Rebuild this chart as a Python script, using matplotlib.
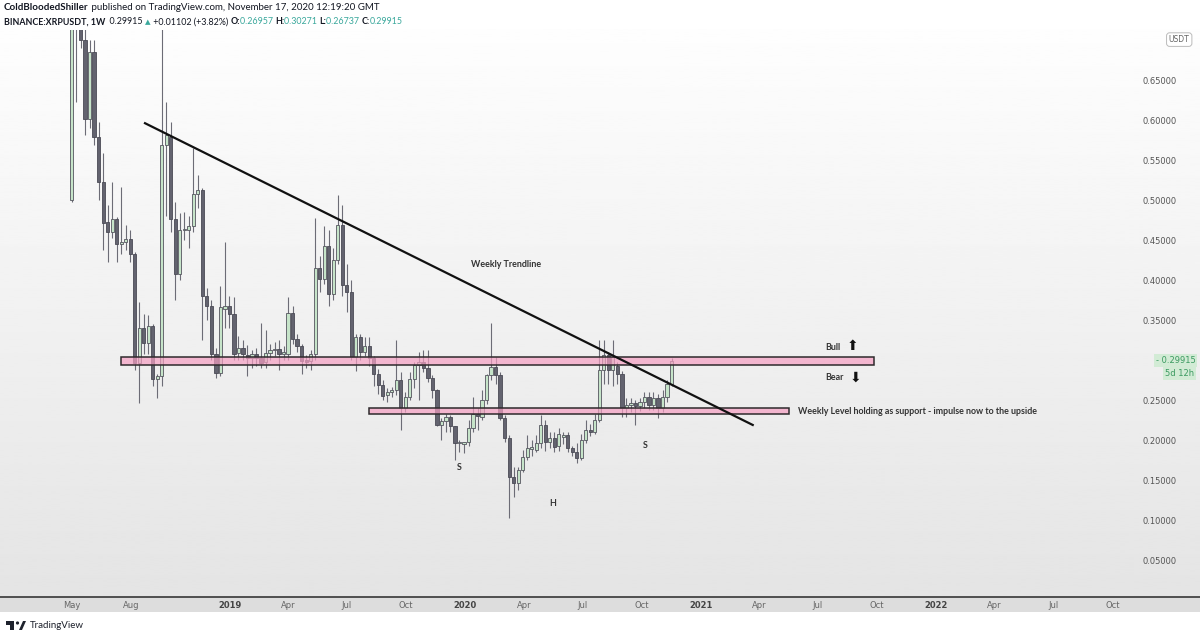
import numpy as np
import pandas as pd
import matplotlib
matplotlib.use("Agg")
import matplotlib.pyplot as plt
import matplotlib.dates as mdates
from matplotlib.transforms import blended_transform_factory
from matplotlib.patches import Rectangle

# weekly OHLC, BINANCE:XRPUSDT, first candle = week of 2018-04-30
opens = [0.50, 0.87, 0.78, 0.70, 0.601, 0.685, 0.579, 0.523, 0.472, 0.460,
         0.476, 0.445, 0.447, 0.451, 0.432, 0.296, 0.340, 0.321, 0.342, 0.276,
         0.280, 0.569, 0.579, 0.476, 0.408, 0.4625, 0.462, 0.467, 0.508, 0.512,
         0.380, 0.368, 0.308, 0.284, 0.364, 0.367, 0.358, 0.309, 0.315, 0.306,
         0.302, 0.308, 0.302, 0.297, 0.309, 0.312, 0.314, 0.308, 0.308, 0.359,
         0.326, 0.317, 0.300, 0.299, 0.308, 0.415, 0.401, 0.442, 0.383, 0.425,
         0.469, 0.394, 0.385, 0.304, 0.329, 0.310, 0.317, 0.302, 0.283, 0.269,
         0.256, 0.260, 0.262, 0.275, 0.240, 0.254, 0.276, 0.294, 0.298, 0.290,
         0.278, 0.2625, 0.219, 0.224, 0.229, 0.217, 0.196, 0.195, 0.197, 0.2146,
         0.233, 0.229, 0.250, 0.281, 0.2917, 0.281, 0.227, 0.202, 0.154, 0.146,
         0.1625, 0.179, 0.189, 0.188, 0.196, 0.219, 0.198, 0.202, 0.192, 0.204,
         0.206, 0.190, 0.185, 0.177, 0.200, 0.2125, 0.210, 0.225, 0.2875, 0.306,
         0.2875, 0.292, 0.283, 0.2396, 0.2438, 0.2458, 0.2425, 0.2479, 0.2542, 0.2438,
         0.2520, 0.2396, 0.2542, 0.26957]
highs = [0.95, 0.93, 0.80, 0.72, 0.70, 0.70, 0.598, 0.559, 0.494, 0.523,
         0.479, 0.516, 0.469, 0.463, 0.435, 0.373, 0.358, 0.356, 0.345, 0.283,
         0.78, 0.623, 0.598, 0.498, 0.484, 0.485, 0.48, 0.565, 0.531, 0.515,
         0.39, 0.375, 0.315, 0.392, 0.448, 0.38, 0.379, 0.33, 0.325, 0.319,
         0.312, 0.315, 0.346, 0.338, 0.32, 0.323, 0.325, 0.318, 0.379, 0.367,
         0.333, 0.32, 0.306, 0.312, 0.477, 0.43, 0.467, 0.4625, 0.44, 0.506,
         0.494, 0.42, 0.40, 0.333, 0.333, 0.329, 0.329, 0.305, 0.289, 0.275,
         0.265, 0.266, 0.325, 0.285, 0.26, 0.285, 0.298, 0.31, 0.312, 0.313,
         0.281, 0.264, 0.228, 0.233, 0.231, 0.218, 0.20, 0.198, 0.225, 0.254,
         0.24, 0.2625, 0.283, 0.346, 0.304, 0.285, 0.231, 0.206, 0.1667, 0.1667,
         0.1875, 0.206, 0.20, 0.206, 0.231, 0.225, 0.21, 0.21, 0.215, 0.21,
         0.21, 0.193, 0.196, 0.208, 0.225, 0.22, 0.233, 0.325, 0.325, 0.31,
         0.325, 0.298, 0.286, 0.252, 0.252, 0.25, 0.252, 0.26, 0.26, 0.26,
         0.258, 0.262, 0.275, 0.30271]
lows = [0.497, 0.623, 0.69, 0.581, 0.59, 0.569, 0.50, 0.437, 0.423, 0.452,
        0.422, 0.433, 0.437, 0.423, 0.288, 0.246, 0.308, 0.308, 0.267, 0.252,
        0.267, 0.48, 0.46, 0.375, 0.40, 0.45, 0.44, 0.46, 0.49, 0.325,
        0.35, 0.30, 0.278, 0.28, 0.34, 0.34, 0.30, 0.30, 0.30, 0.28,
        0.29, 0.292, 0.29, 0.29, 0.30, 0.305, 0.288, 0.30, 0.30, 0.32,
        0.31, 0.283, 0.29, 0.288, 0.30, 0.385, 0.395, 0.367, 0.375, 0.42,
        0.38, 0.36, 0.30, 0.286, 0.30, 0.305, 0.292, 0.2675, 0.258, 0.25,
        0.248, 0.254, 0.256, 0.2125, 0.235, 0.25, 0.265, 0.25, 0.285, 0.272,
        0.2525, 0.2175, 0.20, 0.21, 0.21, 0.175, 0.185, 0.184, 0.192, 0.21,
        0.2125, 0.225, 0.245, 0.275, 0.27, 0.225, 0.198, 0.102, 0.129, 0.1375,
        0.16, 0.175, 0.18, 0.185, 0.19, 0.186, 0.19, 0.185, 0.186, 0.195,
        0.185, 0.18, 0.171, 0.175, 0.196, 0.205, 0.208, 0.222, 0.27, 0.27,
        0.268, 0.27, 0.229, 0.229, 0.235, 0.219, 0.236, 0.24, 0.238, 0.237,
        0.228, 0.235, 0.248, 0.26737]
closes = [0.87, 0.78, 0.70, 0.601, 0.685, 0.579, 0.523, 0.471, 0.460, 0.476,
          0.445, 0.447, 0.451, 0.433, 0.296, 0.340, 0.321, 0.342, 0.276, 0.280,
          0.569, 0.581, 0.476, 0.408, 0.4625, 0.464, 0.467, 0.508, 0.512, 0.380,
          0.368, 0.308, 0.284, 0.366, 0.367, 0.358, 0.308, 0.315, 0.308, 0.302,
          0.308, 0.302, 0.296, 0.309, 0.312, 0.314, 0.308, 0.309, 0.359, 0.326,
          0.317, 0.299, 0.298, 0.308, 0.415, 0.401, 0.442, 0.383, 0.425, 0.469,
          0.394, 0.385, 0.304, 0.329, 0.310, 0.317, 0.302, 0.283, 0.269, 0.255,
          0.260, 0.262, 0.275, 0.2396, 0.254, 0.276, 0.294, 0.298, 0.290, 0.278,
          0.2625, 0.219, 0.224, 0.229, 0.217, 0.196, 0.198, 0.197, 0.2146, 0.233,
          0.230, 0.250, 0.281, 0.2917, 0.281, 0.227, 0.202, 0.154, 0.146, 0.1625,
          0.179, 0.1896, 0.191, 0.196, 0.219, 0.198, 0.202, 0.1917, 0.208, 0.206,
          0.190, 0.185, 0.177, 0.200, 0.2125, 0.210, 0.225, 0.2875, 0.306, 0.2875,
          0.304, 0.283, 0.2396, 0.2438, 0.2458, 0.2425, 0.2479, 0.2542, 0.2438, 0.2520,
          0.2396, 0.2542, 0.2696, 0.29915]
weeks = pd.date_range("2018-04-30", periods=len(opens), freq="W-MON")

price_ticks = [0.05, 0.10, 0.15, 0.20, 0.25, 0.35, 0.40, 0.45, 0.50, 0.55, 0.60, 0.65]
time_ticks = ["2018-05-01", "2018-08-01", "2019-01-01", "2019-04-01", "2019-07-01", "2019-10-01",
              "2020-01-01", "2020-04-01", "2020-07-01", "2020-10-01", "2021-01-01", "2021-04-01",
              "2021-07-01", "2021-10-01", "2022-01-01", "2022-04-01", "2022-07-01", "2022-10-01"]
time_labels = ["May", "Aug", "2019", "Apr", "Jul", "Oct", "2020", "Apr", "Jul", "Oct",
               "2021", "Apr", "Jul", "Oct", "2022", "Apr", "Jul", "Oct"]

# drawings
trend_x = ["2018-08-22", "2021-03-22"]
trend_y = [0.596, 0.2188]
zone_upper = ("2018-07-16", "2021-09-26", 0.2938, 0.3034)
zone_lower = ("2019-08-05", "2021-05-17", 0.2330, 0.2396)

W, H = 1200, 638
FONT = ["Lato", "DejaVu Sans"]
fig = plt.figure(figsize=(W / 100, H / 100), dpi=100)
fig.patch.set_facecolor("white")

# background gradient
bg = fig.add_axes([0, 1 - 597 / H, 1, 597 / H], zorder=-2)
grad = np.linspace(0, 1, 256).reshape(-1, 1)
bg.imshow(1 - 0.105 * grad, cmap="gray", vmin=0, vmax=1, aspect="auto", extent=[0, 1, 0, 1])
bg.set_axis_off()

ax = fig.add_axes([0, 1 - 597 / H, 1122 / W, (597 - 30) / H])
ax.patch.set_alpha(0)
ax.set_ylim(0.00375, 0.7125)
ax.set_xlim(mdates.date2num(pd.Timestamp("2018-01-09")), mdates.date2num(pd.Timestamp("2022-10-16")))

x = mdates.date2num(weeks)
o = np.array(opens); c = np.array(closes)
up = c >= o
ax.vlines(x, lows, highs, color="#6c6c76", lw=0.8, zorder=2)
body_h = np.maximum(np.abs(c - o), 0.0015)
ax.bar(x[up], body_h[up], bottom=np.minimum(o, c)[up], width=5.0, color="#c6e4c9",
       edgecolor="#55555f", linewidth=0.6, zorder=3)
ax.bar(x[~up], body_h[~up], bottom=np.minimum(o, c)[~up], width=5.0, color="#63636f",
       edgecolor="#4a4a55", linewidth=0.6, zorder=3)

for z in (zone_upper, zone_lower):
    x0 = mdates.date2num(pd.Timestamp(z[0])); x1 = mdates.date2num(pd.Timestamp(z[1]))
    ax.add_patch(Rectangle((x0, z[2]), x1 - x0, z[3] - z[2], facecolor=(0.96, 0.62, 0.76, 0.7),
                           edgecolor="#2e2a2c", lw=1.1, zorder=4))

ax.plot(mdates.date2num(pd.to_datetime(trend_x)), trend_y, color="#111111", lw=1.6, zorder=5)

tfont = dict(family=FONT, fontsize=6.4, color="#333333")
def dpos(d):
    return mdates.date2num(pd.Timestamp(d))
ax.text(dpos("2020-03-05"), 0.42, "Weekly Trendline", ha="center", va="center", fontweight="bold", **tfont)
ax.text(dpos("2021-07-12"), 0.316, "Bull", ha="left", va="center", fontweight="bold", **tfont)
ax.text(dpos("2021-08-24"), 0.317, "⬆", ha="center", va="center",
        family="DejaVu Sans", fontsize=10, color="#111111")
ax.text(dpos("2021-07-12"), 0.2775, "Bear", ha="left", va="center", fontweight="bold", **tfont)
ax.text(dpos("2021-08-28"), 0.2775, "⬇", ha="center", va="center",
        family="DejaVu Sans", fontsize=10, color="#111111")
ax.text(dpos("2021-06-01"), 0.236, "Weekly Level holding as support - impulse now to the upside",
        ha="left", va="center", fontweight="bold", **tfont)
ax.text(dpos("2019-12-23"), 0.165, "S", ha="center", va="center", fontweight="bold", **tfont)
ax.text(dpos("2020-05-15"), 0.121, "H", ha="center", va="center", fontweight="bold", **tfont)
ax.text(dpos("2020-10-06"), 0.1925, "S", ha="center", va="center", fontweight="bold", **tfont)

# axes styling
for s in ax.spines.values():
    s.set_visible(False)
ax.yaxis.tick_right()
ax.set_yticks(price_ticks)
ax.set_yticklabels([f"{v:.5f}" for v in price_ticks])
ax.tick_params(axis="y", length=0, pad=15, labelsize=6, labelcolor="#555555")
ax.set_xticks(mdates.date2num(pd.to_datetime(time_ticks)))
ax.set_xticklabels(time_labels)
ax.tick_params(axis="x", length=0, pad=3, labelsize=6, labelcolor="#666666")
for lab in ax.get_xticklabels():
    if lab.get_text().isdigit():
        lab.set_fontweight("bold")
        lab.set_color("#444444")

# current price label
tr = blended_transform_factory(ax.transAxes, ax.transData)
ax.text(1.030, 0.29915, "- 0.29915", transform=tr, ha="left", va="center", fontsize=6,
        color="#3b9a60", bbox=dict(boxstyle="square,pad=0.25", fc="#d2ebd5", ec="none"), zorder=6)
ax.text(1.0645, 0.2835, "5d 12h", transform=tr, ha="right", va="center", fontsize=6,
        color="#3b9a60", bbox=dict(boxstyle="square,pad=0.25", fc="#d2ebd5", ec="none"), zorder=6)
ax.text(1.051, 0.7005, "USDT", transform=tr, ha="center", va="center",
        fontsize=5.5, color="#666666",
        bbox=dict(boxstyle="round,pad=0.3,rounding_size=0.4", fc="white", ec="#bbbbbb", lw=0.7), zorder=6)

# overlay in pixel coordinates: time strip, header, logo
ov = fig.add_axes([0, 0, 1, 1], zorder=-1)
ov.set_xlim(0, W); ov.set_ylim(H, 0); ov.set_axis_off()
ov.add_patch(Rectangle((0, 597), W, 15, facecolor="#dddddd", edgecolor="none"))
ov.add_patch(Rectangle((0, 0), W, 29, facecolor="white", edgecolor="none"))
ov.plot([0, W], [597, 597], color="#444444", lw=1.3)

top = fig.add_axes([0, 0, 1, 1], zorder=10)
top.set_xlim(0, W); top.set_ylim(H, 0); top.set_axis_off()

def rainbow(xp, yp, parts, size):
    prev = None
    for txt, kw in parts:
        base = dict(family=FONT, fontsize=size, color="#131722", va="center", ha="left")
        base.update(kw)
        if prev is None:
            prev = top.text(xp, yp, txt, **base)
        else:
            prev = top.annotate(txt, xy=(1, 0.5), xycoords=prev, **base)

teal = "#3aa89c"
rainbow(4, 8, [("ColdBloodedShiller", dict(fontweight="bold")),
               (" published on TradingView.com, November 17, 2020 12:19:20 GMT", {})], 7.0)
rainbow(4, 22, [("BINANCE:XRPUSDT, 1W", dict(fontweight="bold")),
                ("  0.29915 ", {}), ("▲", dict(color=teal, fontsize=5.2, family="DejaVu Sans")),
                (" +0.01102 (+3.82%) ", {}), ("O:", dict(fontweight="bold")), ("0.26957 ", dict(color=teal)),
                ("H:", dict(fontweight="bold")), ("0.30271 ", dict(color=teal)),
                ("L:", dict(fontweight="bold")), ("0.26737 ", dict(color=teal)),
                ("C:", dict(fontweight="bold")), ("0.29915", dict(color=teal))], 6.4)

# TradingView logo
top.add_patch(Rectangle((6, 621), 8, 4, facecolor="#1e222d", edgecolor="none"))
top.add_patch(Rectangle((10, 621), 4, 9, facecolor="#1e222d", edgecolor="none"))
top.add_patch(plt.Circle((17.5, 623), 1.6, facecolor="#1e222d", edgecolor="none"))
top.add_patch(plt.Polygon([[19, 630], [23, 621], [26, 621], [22, 630]], facecolor="#1e222d", edgecolor="none"))
top.text(30, 625.5, "TradingView", family=FONT, fontsize=7.0, color="#1e222d", va="center", ha="left")

fig.savefig("out.png", dpi=100)
